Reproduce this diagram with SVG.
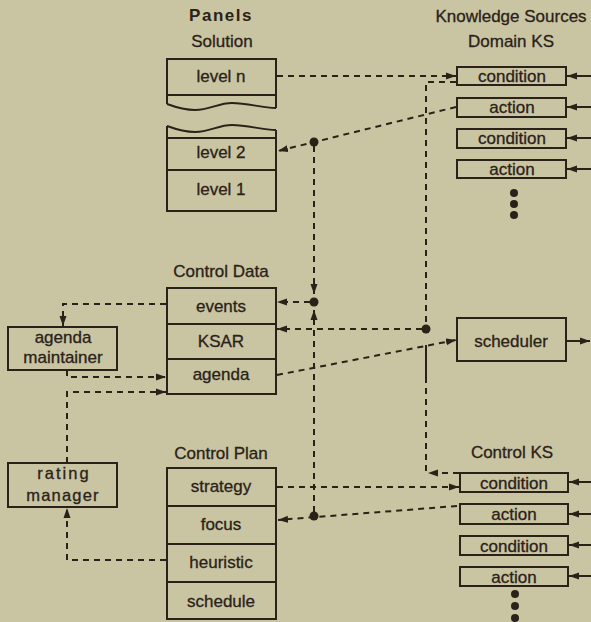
<svg xmlns="http://www.w3.org/2000/svg" width="591" height="622" viewBox="0 0 591 622">
<defs>
<marker id="ah" markerUnits="userSpaceOnUse" markerWidth="12" markerHeight="10" refX="10" refY="4" orient="auto">
<path d="M0,0.5 L10,4 L0,7.5 Z" fill="#2a2219"/>
</marker>
<style>
.t{font-family:"Liberation Sans",Arial,sans-serif;font-size:17px;fill:#2a2219;stroke:#2a2219;stroke-width:0.3;text-anchor:middle}
.h{font-weight:bold;letter-spacing:1.5px;stroke-width:0}
.sp{letter-spacing:2px}
.b{fill:none;stroke:#2a2219;stroke-width:2}
.d{fill:none;stroke:#2a2219;stroke-width:2;stroke-dasharray:6 5}
.s{fill:none;stroke:#2a2219;stroke-width:2}
.dot{fill:#2a2219}
</style>
</defs>
<rect width="591" height="622" fill="#c9c4a1"/>

<text class="t h" x="221" y="21">Panels</text>
<text class="t" x="222" y="47">Solution</text>
<text class="t" x="511" y="22">Knowledge Sources</text>
<text class="t" x="511" y="47">Domain KS</text>
<text class="t" x="221" y="277">Control Data</text>
<text class="t" x="221" y="459">Control Plan</text>
<text class="t" x="512" y="458">Control KS</text>

<g id="solution-top">
<path class="b" d="M167,104 V59 H276 V108 M167,95 H276 M167,104 C178,108 186,110 195,110 C210,110 218,103 232,103 C248,103 262,108 276,108"/>
<text class="t" x="221" y="82">level n</text>
</g>
<g id="solution-bottom">
<path class="b" d="M167,126 V211 H276 V130 M167,138 H276 M167,170 H276 M167,126 C178,130 186,132 195,132 C210,132 218,125 232,125 C248,125 262,130 276,130"/>
<text class="t" x="221" y="158">level 2</text>
<text class="t" x="221" y="195">level 1</text>
</g>

<g id="control-data">
<rect class="b" x="167" y="288" width="109" height="106"/>
<path class="b" d="M167,324 H276 M167,359 H276"/>
<text class="t" x="221" y="312">events</text>
<text class="t" x="221" y="347">KSAR</text>
<text class="t" x="221" y="380">agenda</text>
</g>

<g id="agenda-maintainer">
<rect class="b" x="8" y="327" width="109" height="43"/>
<text class="t" x="63" y="343">agenda</text>
<text class="t" x="63" y="363">maintainer</text>
</g>

<g id="control-plan">
<rect class="b" x="167" y="468" width="109" height="151"/>
<path class="b" d="M167,506 H276 M167,544 H276 M167,582 H276"/>
<text class="t" x="221" y="492">strategy</text>
<text class="t" x="221" y="530">focus</text>
<text class="t" x="221" y="568">heuristic</text>
<text class="t" x="221" y="607">schedule</text>
</g>

<g id="rating-manager">
<rect class="b" x="8" y="463" width="109" height="44"/>
<text class="t sp" x="64" y="479" style="font-size:16.5px">rating</text>
<text class="t" x="63" y="501" style="letter-spacing:1.2px;font-size:16.5px">manager</text>
</g>

<g id="domain-ks">
<rect class="b" x="457" y="67" width="109" height="18"/>
<rect class="b" x="457" y="98" width="109" height="19"/>
<rect class="b" x="457" y="129" width="109" height="19"/>
<rect class="b" x="457" y="160" width="109" height="18"/>
<text class="t" x="512" y="82">condition</text>
<text class="t" x="512" y="113">action</text>
<text class="t" x="512" y="144">condition</text>
<text class="t" x="512" y="175">action</text>
<circle class="dot" cx="514" cy="193" r="4"/>
<circle class="dot" cx="514" cy="204" r="4"/>
<circle class="dot" cx="514" cy="215" r="4"/>
</g>

<g id="scheduler">
<rect class="b" x="457" y="318" width="109" height="43"/>
<text class="t" x="511" y="347">scheduler</text>
</g>

<g id="control-ks">
<rect class="b" x="460" y="473" width="108" height="19"/>
<rect class="b" x="460" y="504" width="108" height="20"/>
<rect class="b" x="460" y="536" width="108" height="19"/>
<rect class="b" x="460" y="567" width="108" height="19"/>
<text class="t" x="514" y="489">condition</text>
<text class="t" x="514" y="520">action</text>
<text class="t" x="514" y="552">condition</text>
<text class="t" x="514" y="583">action</text>
<circle class="dot" cx="515" cy="594" r="4"/>
<circle class="dot" cx="515" cy="606" r="4"/>
<circle class="dot" cx="515" cy="618" r="4"/>
</g>

<g id="connectors">
<path class="s" d="M591,76 H567" marker-end="url(#ah)"/>
<path class="s" d="M591,107 H567" marker-end="url(#ah)"/>
<path class="s" d="M591,138 H567" marker-end="url(#ah)"/>
<path class="s" d="M591,169 H567" marker-end="url(#ah)"/>
<path class="s" d="M591,482 H569" marker-end="url(#ah)"/>
<path class="s" d="M591,514 H569" marker-end="url(#ah)"/>
<path class="s" d="M591,545 H569" marker-end="url(#ah)"/>
<path class="s" d="M591,576 H569" marker-end="url(#ah)"/>
<path class="s" d="M567,341 H590" marker-end="url(#ah)"/>

<path class="d" d="M277,76 H456" marker-end="url(#ah)"/>
<path class="d" d="M456,107 L278,151" marker-end="url(#ah)"/>
<circle class="dot" cx="314" cy="142" r="4.5"/>
<path class="d" d="M314,146 V294" marker-end="url(#ah)"/>
<circle class="dot" cx="314" cy="302" r="4.5"/>
<path class="d" d="M310,302 H277" marker-end="url(#ah)"/>
<path class="d" d="M314,512 V310" marker-end="url(#ah)"/>
<circle class="dot" cx="314" cy="516" r="4.5"/>
<path class="d" d="M457,506 L278,520" marker-end="url(#ah)"/>

<path class="d" d="M456,82 H426 V325"/>
<circle class="dot" cx="426" cy="329" r="4.5"/>
<path class="d" d="M422,329 H277" marker-end="url(#ah)"/>
<path class="s" d="M426,345 V377"/>
<path class="d" d="M426,377 V472"/>
<path class="d" d="M459,473 H428" marker-end="url(#ah)"/>

<path class="d" d="M277,375 L456,340" marker-end="url(#ah)"/>
<path class="d" d="M277,487 H459" marker-end="url(#ah)"/>

<path class="d" d="M166,304 H63 V326" marker-end="url(#ah)"/>
<path class="d" d="M67,370 V377 H166" marker-end="url(#ah)"/>
<path class="d" d="M67,463 V392 H166" marker-end="url(#ah)"/>
<path class="d" d="M166,560 H67 V508" marker-end="url(#ah)"/>
</g>
</svg>
